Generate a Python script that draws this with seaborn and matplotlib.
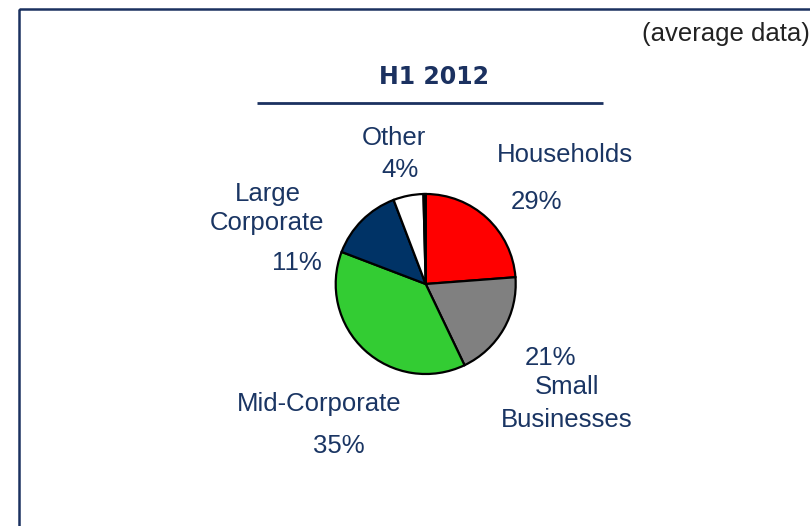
import matplotlib
matplotlib.use('Agg')
import matplotlib.pyplot as plt
import seaborn as sns
from matplotlib.patches import Rectangle

# 数据：扇区大小按图中角度读取，标签文字按图中原样
segments = ['Households', 'Small Businesses', 'Mid-Corporate', 'Large Corporate', 'Other', '']
shares = [23.8, 19.1, 37.9, 13.4, 5.4, 0.4]
seg_colors = ['#FF0000', '#808080', '#33CC33', '#003366', '#FFFFFF', '#FFFFFF']
label_names = ['Households', 'Small\nBusinesses', 'Mid-Corporate', 'Large\nCorporate', 'Other']
label_pcts = ['29%', '21%', '35%', '11%', '4%']
title_text = 'H1 2012'
note_text = '(average data)'

sns.set_theme(style='white')
plt.rcParams['font.family'] = ['Liberation Sans', 'DejaVu Sans']

W, H = 810, 526
fig = plt.figure(figsize=(W / 100, H / 100), dpi=100)
fig.patch.set_facecolor('white')

# 叠加层：像素坐标，放文字、边框、标题线
over = fig.add_axes([0, 0, 1, 1])
over.set_xlim(0, W)
over.set_ylim(H, 0)
over.axis('off')

navy = '#1B3160'
txt = '#1A3563'
over.add_patch(Rectangle((19, 8.5), 820, 540, fill=False, edgecolor=navy, lw=1.8, clip_on=False))
over.text(434, 77, title_text, ha='center', va='center', fontsize=17, fontweight='bold',
          color=navy, family=['DejaVu Sans'])
over.plot([257, 603], [103, 103], color=navy, lw=2, solid_capstyle='butt')
over.text(642, 34, note_text, ha='left', va='center', fontsize=18.5, color='#222222')

# 饼图
cx, cy, r = 425.7, 284, 90
side = r * 2.5
pie_ax = fig.add_axes([(cx - side / 2) / W, (H - cy - side / 2) / H, side / W, side / H])
pie_ax.pie(shares, colors=seg_colors, startangle=90, counterclock=False,
           wedgeprops={'edgecolor': 'black', 'linewidth': 1.6})

# 标签位置（像素）：名称每一行的位置，以及百分比位置
name_pos = [[(565, 155)], [(567, 387), (567, 420)], [(319, 404)],
            [(268, 194), (267, 223)], [(394, 138)]]
pct_pos = [(536, 202), (551, 358), (339, 446), (297, 263), (400, 170)]

for name, pos_list, pct, (px, py) in zip(label_names, name_pos, label_pcts, pct_pos):
    for line, (x, y) in zip(name.split('\n'), pos_list):
        over.text(x, y, line, ha='center', va='center', fontsize=18.5, color=txt)
    over.text(px, py, pct, ha='center', va='center', fontsize=18.5, color=txt)

fig.savefig('out.png', dpi=100)
